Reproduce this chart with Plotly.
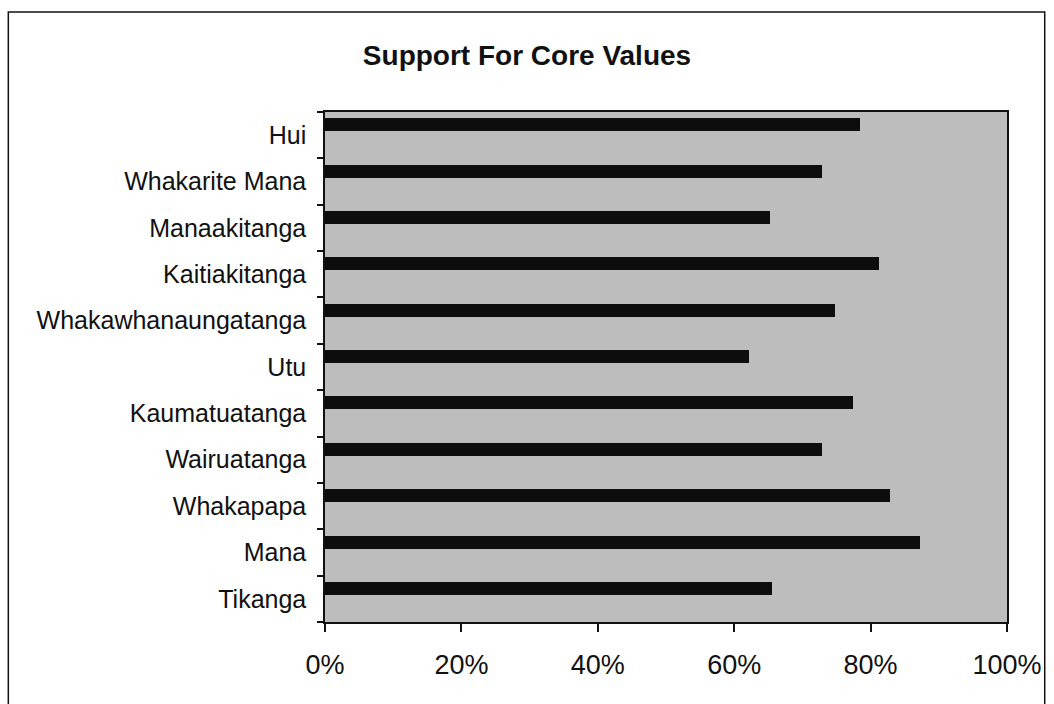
import plotly.graph_objects as go

# Core values, listed bottom to top as they appear on the chart
categories = [
    "Tikanga", "Mana", "Whakapapa", "Wairuatanga", "Kaumatuatanga", "Utu",
    "Whakawhanaungatanga", "Kaitiakitanga", "Manaakitanga", "Whakarite Mana", "Hui",
]
# Share of respondents supporting each value (fraction of 1)
support = [0.656, 0.873, 0.828, 0.729, 0.774, 0.622,
           0.748, 0.812, 0.652, 0.728, 0.785]

x_ticks = [0, 0.2, 0.4, 0.6, 0.8, 1.0]
x_tick_text = ["0%", "20%", "40%", "60%", "80%", "100%"]

W, H = 1054, 704
ML, MR, MT, MB = 325, 42, 112, 82

fig = go.Figure()
fig.add_trace(go.Bar(
    x=support,
    y=categories,
    orientation="h",
    width=0.28,
    offset=0.085,
    marker=dict(color="#0d0d0d", line=dict(width=0)),
    hoverinfo="x+y",
))

# Outer chart frame (continues below the visible page)
pw = W - ML - MR
ph = H - MT - MB
def px_x(v):
    return (v - ML) / pw
def px_y(v):
    return (H - MB - v) / ph

fig.add_shape(
    type="rect", xref="paper", yref="paper",
    x0=px_x(6), x1=px_x(1050), y0=px_y(720), y1=px_y(12),
    line=dict(color="#111111", width=1.5), fillcolor="rgba(0,0,0,0)",
    layer="below",
)

fig.update_layout(
    width=W, height=H,
    margin=dict(l=ML, r=MR, t=MT, b=MB),
    paper_bgcolor="white",
    plot_bgcolor="#bdbdbd",
    showlegend=False,
    bargap=0,
    font=dict(family="Liberation Sans, Arial, sans-serif", color="#111111"),
    title=dict(
        text="<b>Support For Core Values</b>",
        font=dict(size=28, family="Liberation Sans, Arial, sans-serif", color="#111111"),
        x=0.5, xanchor="center", xref="container",
        y=1 - 55 / H, yanchor="middle", yref="container",
    ),
)

fig.update_xaxes(
    range=[0, 1],
    tickvals=x_ticks,
    ticktext=x_tick_text,
    ticks="outside", ticklen=8, tickwidth=1.5, tickcolor="#111111",
    tickfont=dict(size=27),
    ticklabelstandoff=10,
    showgrid=False, zeroline=False,
    showline=True, linecolor="#111111", linewidth=1.5, mirror=True,
)
fig.update_yaxes(
    categoryorder="array", categoryarray=categories,
    tickson="boundaries",
    ticks="outside", ticklen=6, tickwidth=1.5, tickcolor="#111111",
    tickfont=dict(size=25),
    ticklabelstandoff=12,
    showgrid=False, zeroline=False,
    showline=True, linecolor="#111111", linewidth=1.5, mirror=True,
)

fig.write_html("out.html")
